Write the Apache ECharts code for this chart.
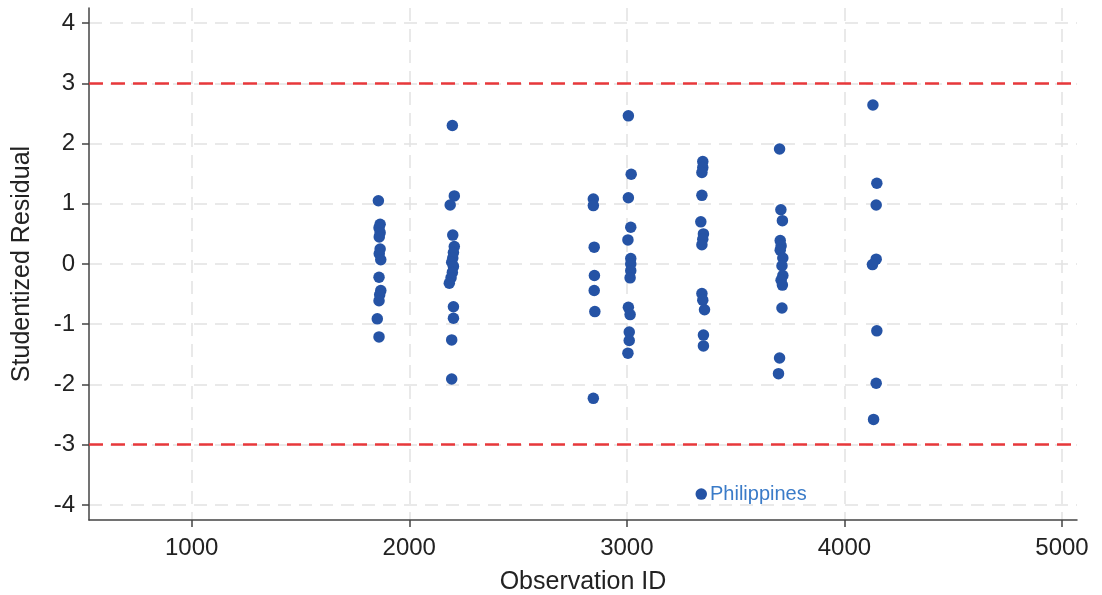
<!DOCTYPE html>
<html>
<head>
<meta charset="utf-8">
<script src="https://cdn.jsdelivr.net/npm/echarts@6/dist/echarts.min.js"></script>
<style>
html,body{margin:0;padding:0;background:#fff;}
#chart{width:1102px;height:595px;}
</style>
</head>
<body>
<div id="chart"></div>
<script>
// Observation IDs and studentized residuals
const observationIds = [
  1858,1866,1861,1866,1862,1866,1862,1869,1861,1869,1864,1861,1853,1861,
  2207,2188,2200,2207,2203,2200,2195,2203,2198,2192,2184,2203,2203,2195,2195,2198,
  2846,2846,2850,2851,2850,2853,2846,
  3007,3020,3007,3018,3005,3018,3018,3018,3015,3007,3015,3011,3011,3005,
  3349,3349,3345,3345,3340,3352,3349,3345,3345,3349,3357,3352,3352,
  3702,3708,3715,3705,3709,3705,3717,3713,3717,3709,3715,3713,3702,3697,
  4131,4149,4146,4146,4129,4149,4146,4134
];
const residuals = [
  1.05,0.66,0.60,0.52,0.45,0.25,0.17,0.07,-0.22,-0.44,-0.51,-0.61,-0.91,-1.21,
  1.13,0.98,0.48,0.29,0.19,0.10,0.03,-0.04,-0.14,-0.23,-0.32,-0.71,-0.90,-1.26,-1.91,2.30,
  1.08,0.97,0.28,-0.19,-0.44,-0.79,-2.23,
  2.46,1.49,1.10,0.61,0.40,0.09,0.00,-0.11,-0.23,-0.72,-0.84,-1.13,-1.27,-1.48,
  1.70,1.60,1.52,1.14,0.70,0.50,0.41,0.32,-0.49,-0.60,-0.76,-1.18,-1.36,
  1.91,0.90,0.72,0.39,0.30,0.23,0.10,-0.03,-0.19,-0.27,-0.35,-0.73,-1.56,-1.82,
  2.64,1.34,0.98,0.08,-0.01,-1.11,-1.98,-2.58
];
// Labelled outlier
const outlierId = [3342];
const outlierResidual = [-3.82];
const outlierName = ['Philippines'];

// Axis ticks and thresholds
const xTicks = [1000, 2000, 3000, 4000, 5000];
const yTicks = [-4, -3, -2, -1, 0, 1, 2, 3, 4];
const thresholds = [3, -3];

const FONT = '"Liberation Sans", Arial, Helvetica, sans-serif';
const BLUE = '#2553a5';

const points = observationIds.map((id, i) => [id, residuals[i]]);
const outliers = outlierId.map((id, i) => ({ value: [id, outlierResidual[i]], name: outlierName[i] }));

const chart = echarts.init(document.getElementById('chart'), null, { renderer: 'canvas' });
chart.setOption({
  animation: false,
  backgroundColor: '#ffffff',
  grid: { left: 89, right: 25, top: 8, bottom: 75, containLabel: false, outerBoundsMode: 'none' },
  xAxis: {
    type: 'value',
    min: 528, max: 5069,
    name: 'Observation ID',
    nameLocation: 'middle',
    nameGap: 50,
    nameTextStyle: { fontFamily: FONT, fontSize: 25, color: '#222' },
    axisLine: { show: true, onZero: false, lineStyle: { color: '#444', width: 1.5 } },
    axisTick: { show: true, length: 7, customValues: xTicks, lineStyle: { color: '#444', width: 1.5 } },
    axisLabel: { customValues: xTicks, margin: 16, formatter: v => String(v), fontFamily: FONT, fontSize: 24, color: '#222' },
    splitLine: { show: true, lineStyle: { color: '#e2e2e2', width: 1.5, type: [13, 8] } }
  },
  yAxis: {
    type: 'value',
    min: -4.25, max: 4.25,
    name: 'Studentized Residual',
    nameLocation: 'middle',
    nameGap: 54,
    nameRotate: 90,
    nameTextStyle: { fontFamily: FONT, fontSize: 25, color: '#222' },
    axisLine: { show: true, onZero: false, lineStyle: { color: '#444', width: 1.5 } },
    axisTick: { show: true, length: 7, customValues: yTicks, lineStyle: { color: '#444', width: 1.5 } },
    axisLabel: { customValues: yTicks, margin: 14, formatter: v => String(v), fontFamily: FONT, fontSize: 24, color: '#222' },
    splitLine: { show: true, lineStyle: { color: '#e2e2e2', width: 1.5, type: [13, 8] } }
  },
  series: [
    {
      type: 'scatter',
      data: points,
      symbolSize: 11.5,
      itemStyle: { color: BLUE, opacity: 1 },
      markLine: {
        silent: true,
        symbol: 'none',
        label: { show: false },
        lineStyle: { color: '#e8383b', width: 2.5, type: [14, 8] },
        data: thresholds.map(v => ({ yAxis: v }))
      },
      z: 3
    },
    {
      type: 'scatter',
      data: outliers,
      symbolSize: 11.5,
      itemStyle: { color: BLUE, opacity: 1 },
      label: {
        show: true,
        position: 'right',
        distance: 3,
        formatter: p => p.name,
        fontFamily: FONT,
        fontSize: 20,
        color: '#3a7bc8'
      },
      z: 3
    }
  ]
});
</script>
</body>
</html>
